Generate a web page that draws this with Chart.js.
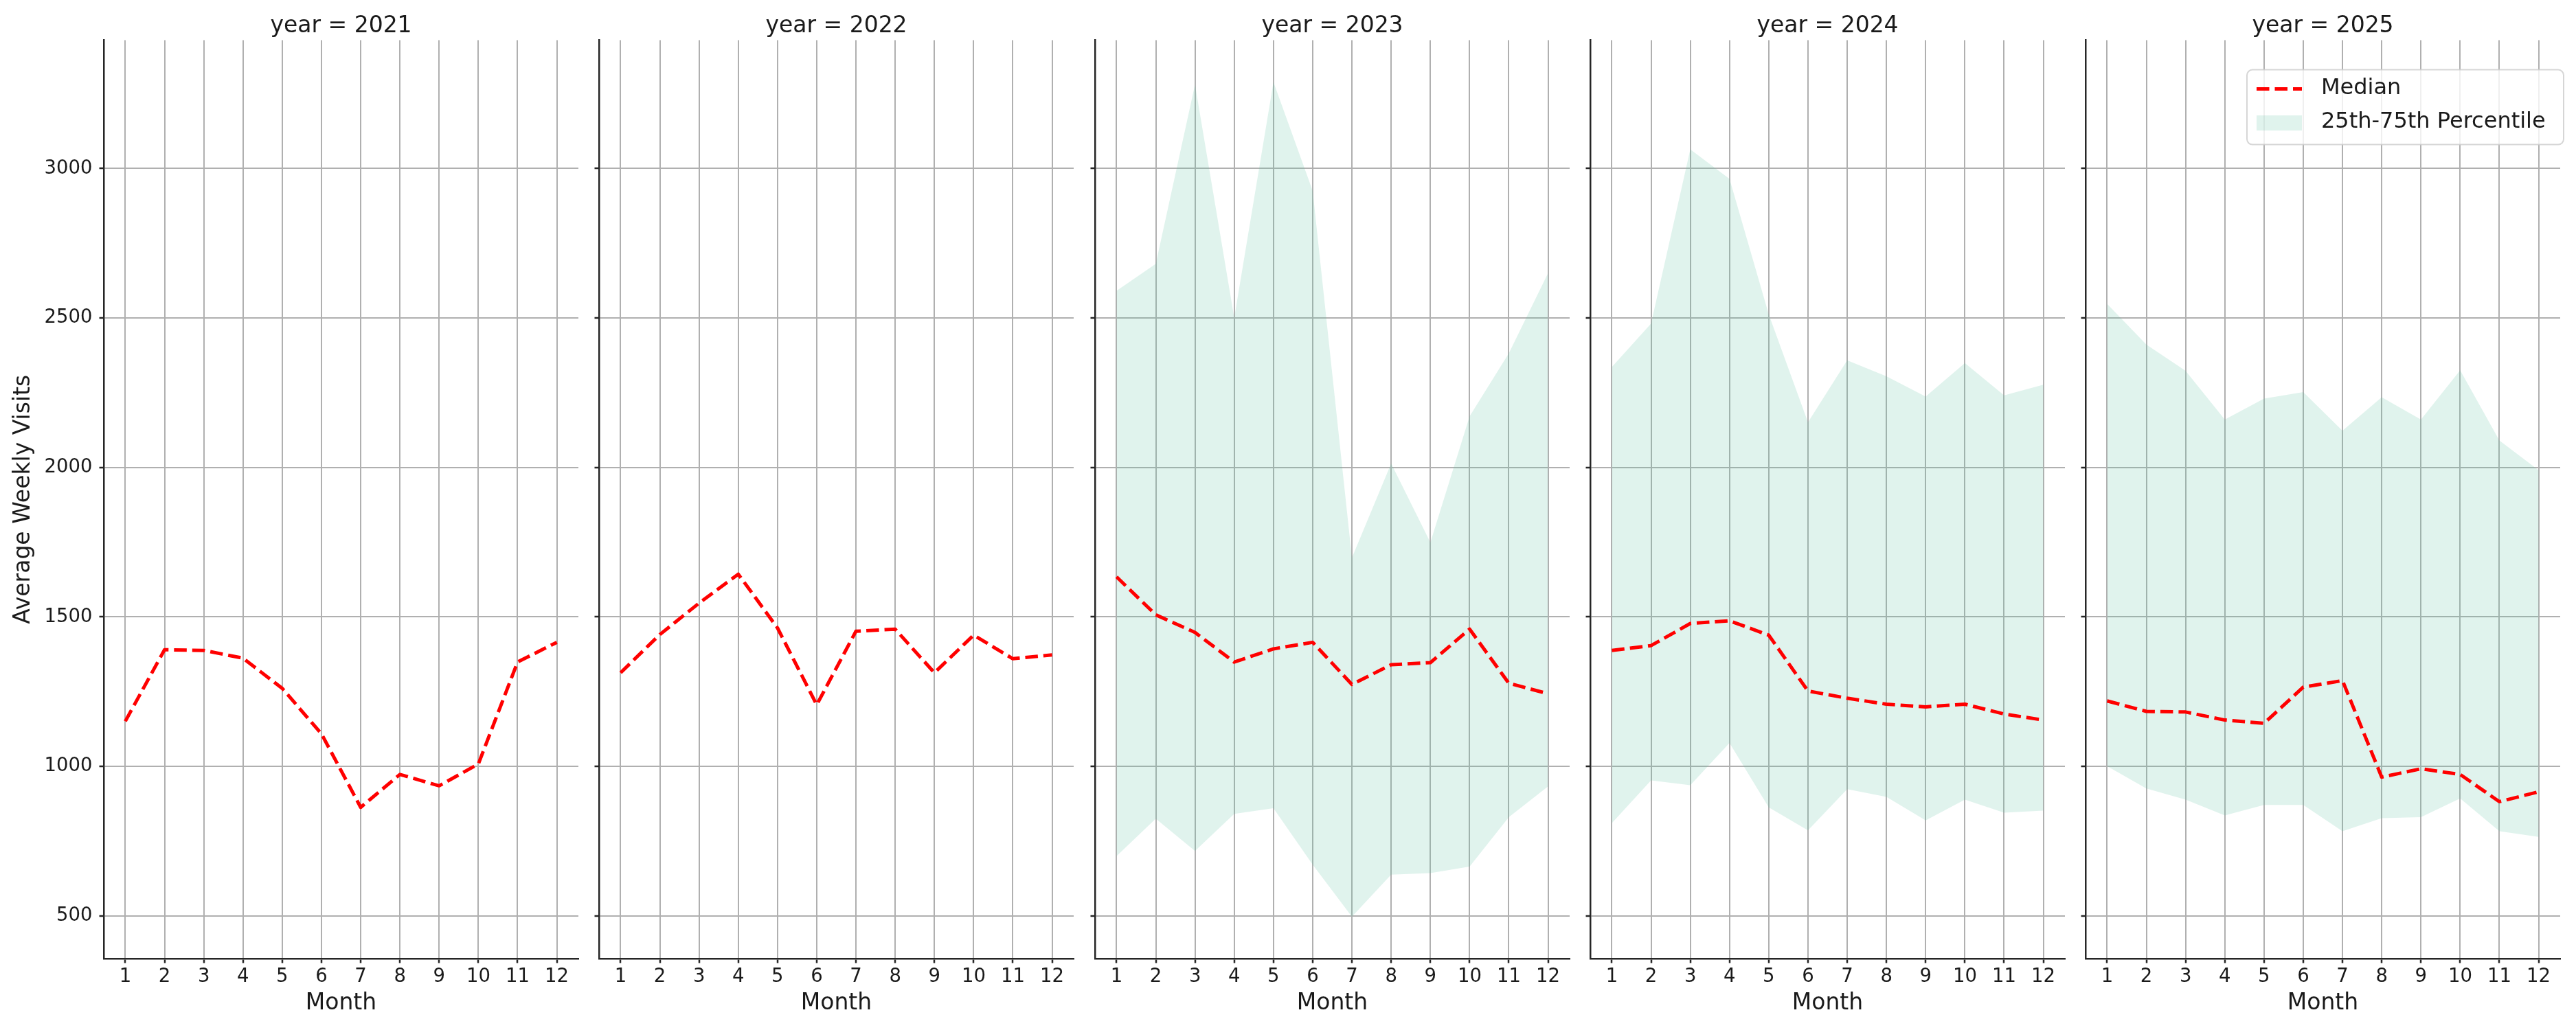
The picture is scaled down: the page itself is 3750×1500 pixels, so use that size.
<!DOCTYPE html>
<html>
<head>
<meta charset="utf-8">
<script src="https://cdn.jsdelivr.net/npm/chart.js@4.4.1/dist/chart.umd.min.js"></script>
<style>
  html, body { margin: 0; padding: 0; background: #ffffff; }
  #wrap { position: relative; width: 3750px; height: 1500px; overflow: hidden; background: #ffffff; }
  #wrap canvas { position: absolute; top: 0; }
</style>
</head>
<body>
<div id="wrap"></div>
<script>
// ---------------- data ----------------
const years = [2021, 2022, 2023, 2024, 2025];
const months = [1, 2, 3, 4, 5, 6, 7, 8, 9, 10, 11, 12];
const monthTickLabels = ['1', '2', '3', '4', '5', '6', '7', '8', '9', '10', '11', '12'];
const yTickValues = [500, 1000, 1500, 2000, 2500, 3000];
const yTickLabels = ['500', '1000', '1500', '2000', '2500', '3000'];
const legendLabels = ['Median', '25th-75th Percentile'];
const titlePrefix = 'year = ';
const xAxisTitle = 'Month';
const yAxisTitle = 'Average Weekly Visits';

const median2021 = [1151, 1390, 1388, 1362, 1261, 1109, 863, 973, 935, 1008, 1349, 1415];
const median2022 = [1313, 1441, 1546, 1643, 1463, 1206, 1452, 1459, 1313, 1439, 1360, 1373];
const median2023 = [1634, 1507, 1448, 1349, 1393, 1415, 1274, 1340, 1347, 1459, 1278, 1243];
const median2024 = [1388, 1404, 1478, 1487, 1439, 1252, 1228, 1208, 1199, 1208, 1175, 1155];
const median2025 = [1219, 1184, 1182, 1155, 1144, 1265, 1287, 964, 992, 973, 882, 915];

const p25_2023 = [700, 825, 717, 841, 860, 671, 497, 638, 643, 665, 830, 933];
const p75_2023 = [2591, 2681, 3281, 2500, 3289, 2925, 1698, 2013, 1749, 2171, 2382, 2650];
const p25_2024 = [810, 953, 937, 1078, 863, 786, 924, 898, 819, 889, 845, 852];
const p75_2024 = [2336, 2481, 3064, 2965, 2512, 2151, 2358, 2305, 2237, 2349, 2241, 2277];
const p25_2025 = [1001, 926, 889, 836, 871, 871, 783, 827, 830, 893, 783, 764];
const p75_2025 = [2547, 2411, 2323, 2160, 2230, 2252, 2123, 2235, 2160, 2325, 2090, 1991];

const medians = [median2021, median2022, median2023, median2024, median2025];
const lowers  = [null, null, p25_2023, p25_2024, p25_2025];
const uppers  = [null, null, p75_2023, p75_2024, p75_2025];

// ---------------- layout / style ----------------
const PLOT_LEFT0 = 151, PANEL_STEP = 721.25, PLOT_W = 691;
const Y_AXIS_W = 151, RIGHT_PAD = 12, X_AXIS_H = 85, BOTTOM_PAD = 19, TOP_PAD = 19;
const CANVAS_W = Y_AXIS_W + PLOT_W + RIGHT_PAD, CANVAS_H = 1500;
const TEXT = '#1a1a1a', SPINE = '#262626', GRID = '#b0b0b0';
const FILL = 'rgba(102, 194, 165, 0.2)';
const MEDIAN_COLOR = '#ff0000';
const DASH = [18.5, 8];

Chart.defaults.font.family = '"DejaVu Sans", sans-serif';
Chart.defaults.color = TEXT;

const legendPlugin = {
  id: 'facetLegend',
  afterDraw(chart, args, opts) {
    if (!opts || !opts.show) return;
    const { ctx, chartArea } = chart;
    const r = chartArea.right, t = chartArea.top;
    ctx.save();
    const fx = r - 456, fy = t + 43, fw = 461, fh = 109;
    ctx.beginPath();
    ctx.roundRect(fx, fy, fw, fh, 8);
    ctx.fillStyle = 'rgba(255,255,255,0.8)';
    ctx.fill();
    ctx.lineWidth = 2;
    ctx.strokeStyle = 'rgba(204,204,204,0.8)';
    ctx.stroke();
    ctx.beginPath();
    ctx.setLineDash(DASH);
    ctx.lineCap = 'butt';
    ctx.lineWidth = 5;
    ctx.strokeStyle = MEDIAN_COLOR;
    ctx.moveTo(r - 442, t + 71);
    ctx.lineTo(r - 376, t + 71);
    ctx.stroke();
    ctx.setLineDash([]);
    ctx.fillStyle = FILL;
    ctx.fillRect(r - 442, t + 109.5, 66, 22);
    ctx.fillStyle = TEXT;
    ctx.font = '32px "DejaVu Sans", sans-serif';
    ctx.textBaseline = 'middle';
    ctx.textAlign = 'left';
    ctx.fillText(legendLabels[0], r - 348, t + 70.5);
    ctx.fillText(legendLabels[1], r - 348, t + 119.5);
    ctx.restore();
  }
};

const wrap = document.getElementById('wrap');

function toPoints(arr) {
  return months.map((m, k) => ({ x: m, y: arr[k] }));
}

function makePanel(i) {
  const canvas = document.createElement('canvas');
  canvas.width = CANVAS_W;
  canvas.height = CANVAS_H;
  canvas.style.width = CANVAS_W + 'px';
  canvas.style.height = CANVAS_H + 'px';
  canvas.style.left = Math.round(PLOT_LEFT0 + i * PANEL_STEP - Y_AXIS_W) + 'px';
  wrap.appendChild(canvas);

  const datasets = [{
    label: legendLabels[0],
    data: toPoints(medians[i]),
    borderColor: MEDIAN_COLOR,
    borderWidth: 5,
    borderDash: DASH,
    borderCapStyle: 'butt',
    borderJoinStyle: 'round',
    pointRadius: 0,
    fill: false,
    tension: 0,
    order: 0
  }];
  if (uppers[i]) {
    datasets.push({
      label: legendLabels[1],
      data: toPoints(uppers[i]),
      borderColor: 'rgba(0,0,0,0)',
      borderWidth: 0,
      backgroundColor: FILL,
      pointRadius: 0,
      fill: '+1',
      tension: 0,
      order: 1
    });
    datasets.push({
      label: '25th',
      data: toPoints(lowers[i]),
      borderColor: 'rgba(0,0,0,0)',
      borderWidth: 0,
      pointRadius: 0,
      fill: false,
      tension: 0,
      order: 2
    });
  }

  const first = i === 0;
  const last = i === years.length - 1;

  return new Chart(canvas, {
    type: 'line',
    data: { datasets },
    plugins: [legendPlugin],
    options: {
      responsive: false,
      animation: false,
      devicePixelRatio: 1,
      events: [],
      layout: { padding: { left: 0, right: RIGHT_PAD, top: TOP_PAD, bottom: BOTTOM_PAD } },
      plugins: {
        legend: { display: false },
        tooltip: { enabled: false },
        title: {
          display: true,
          text: titlePrefix + years[i],
          fullSize: false,
          color: TEXT,
          font: { size: 33, weight: 'normal' },
          padding: { top: 0, bottom: 0 }
        },
        facetLegend: { show: last }
      },
      scales: {
        x: {
          type: 'linear',
          min: 0.45,
          max: 12.55,
          afterBuildTicks: (s) => { s.ticks = months.map(v => ({ value: v })); },
          afterFit: (s) => { s.height = X_AXIS_H; },
          ticks: {
            callback: (v, idx) => monthTickLabels[idx],
            font: { size: 27.5 },
            color: TEXT,
            padding: 4,
            maxRotation: 0,
            autoSkip: false
          },
          grid: { color: GRID, lineWidth: 2, tickColor: SPINE, tickLength: 6.5, tickWidth: 2.5 },
          border: { display: true, color: SPINE, width: 2.5 },
          title: { display: true, text: xAxisTitle, color: TEXT, font: { size: 33 }, padding: { top: 0, bottom: 0 } }
        },
        y: {
          type: 'linear',
          min: 357,
          max: 3429,
          afterBuildTicks: (s) => { s.ticks = yTickValues.map(v => ({ value: v })); },
          afterFit: (s) => { s.width = Y_AXIS_W; },
          ticks: {
            display: first,
            callback: (v, idx) => yTickLabels[idx],
            font: { size: 27.5 },
            color: TEXT,
            padding: 10
          },
          grid: { color: GRID, lineWidth: 2, tickColor: SPINE, tickLength: 6.5, tickWidth: 2.5 },
          border: { display: true, color: SPINE, width: 2.5 },
          title: { display: first, text: yAxisTitle, color: TEXT, font: { size: 33 }, padding: { top: 15, bottom: 0 } }
        }
      }
    }
  });
}

years.forEach((y, i) => makePanel(i));
</script>
</body>
</html>
